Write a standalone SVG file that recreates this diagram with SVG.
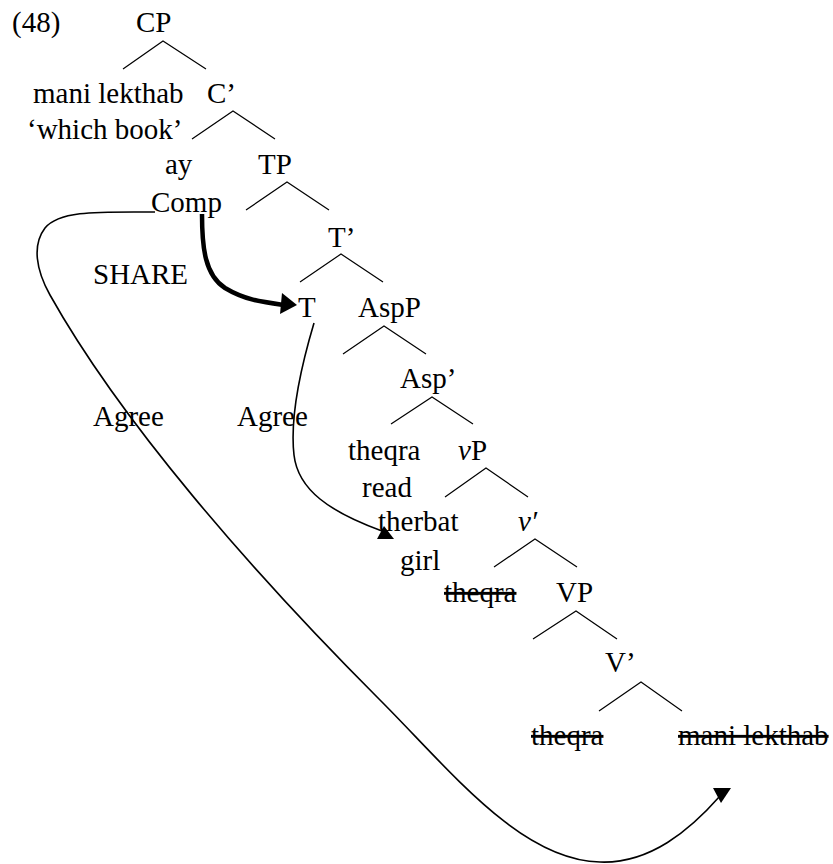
<svg xmlns="http://www.w3.org/2000/svg" width="833" height="864" viewBox="0 0 833 864">
<style>
text{font-family:"Liberation Serif","Times New Roman",serif;font-size:29px;fill:#000}
.it{font-style:italic}
.st{text-decoration:line-through}
.br{stroke:#000;stroke-width:1.2;fill:none}
.cv{stroke:#000;stroke-width:1.6;fill:none}
.thick{stroke:#000;stroke-width:4.5;fill:none}
.ah{fill:#000;stroke:none}
</style>
<rect width="833" height="864" fill="#fff"/>
<text x="12" y="32">(48)</text>
<g id="CP"><text x="136" y="32">CP</text><path class="br" d="M123,69 L163,41 L206,69"/></g>
<g id="spec"><text x="33" y="103">mani lekthab</text><text x="27" y="139">‘which book’</text></g>
<g id="Cbar"><text x="207" y="103">C’</text><path class="br" d="M192,139 L233,111 L275,139"/></g>
<g id="Comp"><text x="165" y="174">ay</text><text x="151" y="212">Comp</text></g>
<g id="TP"><text x="258" y="174">TP</text><path class="br" d="M246,210 L287,182 L329,210"/></g>
<g id="Tbar"><text x="328" y="247">T’</text><path class="br" d="M300,282 L341,254 L383,282"/></g>
<g id="T"><text x="298" y="317">T</text></g>
<g id="AspP"><text x="358" y="317">AspP</text><path class="br" d="M343,354 L384,326 L426,354"/></g>
<g id="Aspbar"><text x="400" y="388">Asp’</text><path class="br" d="M391,424 L432,397 L473,424"/></g>
<g id="Asp"><text x="348" y="460">theqra</text><text x="362" y="497">read</text></g>
<g id="vP"><text x="458" y="460"><tspan class="it">v</tspan>P</text><path class="br" d="M445,497 L486,468 L528,497"/></g>
<g id="subj"><text x="378" y="531">therbat</text><text x="400" y="570">girl</text></g>
<g id="vbar"><text x="518" y="531" class="it">v′</text><path class="br" d="M494,567 L535,539 L577,567"/></g>
<g id="v"><text x="444" y="602" class="st">theqra</text></g>
<g id="VP"><text x="556" y="602">VP</text><path class="br" d="M533,639 L576,611 L617,639"/></g>
<g id="Vbar"><text x="605" y="672">V’</text><path class="br" d="M599,711 L641,682 L682,711"/></g>
<g id="V"><text x="531" y="745" class="st">theqra</text></g>
<g id="obj"><text x="678" y="745" class="st">mani lekthab</text></g>
<g id="labels"><text x="93" y="284">SHARE</text><text x="93" y="426">Agree</text><text x="237" y="426">Agree</text></g>
<g id="connectors">
<path class="thick" d="M202,214 C202,248 205,275 225,288 C245,300 262,302 284,305"/>
<polygon class="ah" points="297,305 282,293 280,314"/>
<path class="cv" d="M314,323 C300,370 290,420 294,455 C298,490 330,512 382,531"/>
<polygon class="ah" points="384,526 377,539 394,539"/>
<path class="cv" d="M155,212 C100,212 60,210 45,228 C32,245 36,270 50,295 C120,420 250,570 380,700 C450,770 520,860 600,862 C650,864 690,830 720,796"/>
<polygon class="ah" points="713,788 731,788 721,803"/>
</g>
</svg>
